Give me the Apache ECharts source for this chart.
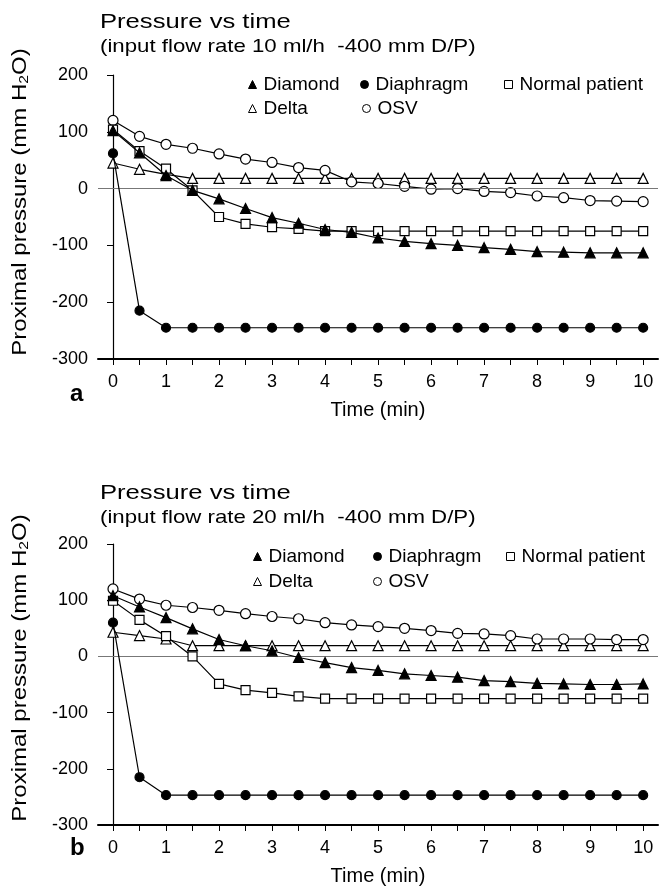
<!DOCTYPE html>
<html><head><meta charset="utf-8">
<script src="https://cdn.jsdelivr.net/npm/echarts@6/dist/echarts.min.js"></script>
<style>html,body{margin:0;padding:0;background:#fff}#c{width:665px;height:887px}</style>
</head><body><div id="c"></div>
<script>
const times = [0,0.5,1,1.5,2,2.5,3,3.5,4,4.5,5,5.5,6,6.5,7,7.5,8,8.5,9,9.5,10];
const xTickLabels = [0,1,2,3,4,5,6,7,8,9,10];
const xMinorTicks = [0,0.5,1,1.5,2,2.5,3,3.5,4,4.5,5,5.5,6,6.5,7,7.5,8,8.5,9,9.5,10];
const seriesNames = ['Diamond','Diaphragm','Normal patient','Delta','OSV'];

// Panel a: 10 ml/h
const diamondA   = [102,63,23,-3,-18,-35,-51,-61,-72,-77,-87,-93,-97,-100,-104,-107,-111,-112,-113,-113,-113];
const diaphragmA = [62,-215,-245,-245,-245,-245,-245,-245,-245,-245,-245,-245,-245,-245,-245,-245,-245,-245,-245,-245,-245];
const normalA    = [104,66,35,-3,-50,-62,-68,-71,-75,-75,-75,-75,-75,-75,-75,-75,-75,-75,-75,-75,-75];
const deltaA     = [45,34,25,18,18,18,18,18,18,18,18,18,18,18,18,18,18,18,18,18,18];
const osvA       = [120,92,78,71,61,52,46,37,32,12,9,4,-1,0,-5,-7,-13,-16,-21,-22,-23];

// Panel b: 20 ml/h
const diamondB   = [108,88,69,49,30,19,10,-2,-11,-20,-25,-31,-34,-37,-43,-45,-48,-49,-50,-50,-49];
const diaphragmB = [60,-215,-247,-247,-247,-247,-247,-247,-247,-247,-247,-247,-247,-247,-247,-247,-247,-247,-247,-247,-247];
const normalB    = [99,65,36,0,-49,-60,-65,-71,-75,-75,-75,-75,-75,-75,-75,-75,-75,-75,-75,-75,-75];
const deltaB     = [43,37,31,19,19,19,19,19,19,19,19,19,19,19,19,19,19,19,19,19,19];
const osvB       = [120,102,91,87,82,76,71,67,60,56,53,50,46,41,40,37,31,31,31,30,30];

const FONT = '"Liberation Sans", Arial, Helvetica, sans-serif';
const styles = {
  'Diamond':        {symbol:'triangle', size:10, fill:'#000'},
  'Diaphragm':      {symbol:'circle',   size:9,  fill:'#000'},
  'Normal patient': {symbol:'rect',     size:9,  fill:'#fff'},
  'Delta':          {symbol:'triangle', size:10, fill:'#fff'},
  'OSV':            {symbol:'circle',   size:10, fill:'#fff'}
};

function pair(vals){ return times.map((t,i)=>[t, vals[i]]); }

function makeSeries(name, vals, gi, z){
  const s = styles[name];
  return {
    type:'line', name, xAxisIndex:gi, yAxisIndex:gi, data:pair(vals),
    symbol:s.symbol, symbolSize:s.size, showAllSymbol:true, z:z,
    lineStyle:{color:'#000', width:1.2},
    itemStyle:{color:s.fill, borderColor:'#000', borderWidth:1.2},
    emphasis:{disabled:true}, animation:false
  };
}

const grids = [
  {left:98, right:7, top:75, height:284},
  {left:98, right:7, top:544, height:282}
];

function xAxis(gi){
  return {
    type:'value', gridIndex:gi, min:-0.283, max:10.28,
    name:'Time (min)', nameLocation:'middle', nameGap:41,
    nameTextStyle:{fontFamily:FONT, fontSize:20, color:'#000'},
    axisLine:{show:true, onZero:false, lineStyle:{color:'#000', width:2}},
    axisTick:{show:true, length:6, inside:false, customValues:xMinorTicks, lineStyle:{color:'#000', width:1}},
    axisLabel:{customValues:xTickLabels, fontFamily:FONT, fontSize:18, color:'#000', margin:14},
    splitLine:{show:false}
  };
}
function yAxis(gi){
  return {
    type:'value', gridIndex:gi, min:-300, max:200, interval:100,
    axisLine:{show:true, lineStyle:{color:'#000', width:1.2}},
    axisTick:{show:true, length:6, lineStyle:{color:'#000', width:1}},
    axisLabel:{fontFamily:FONT, fontSize:18, color:'#000', margin:10},
    splitLine:{show:false}
  };
}

const zeroLine = {
  silent:true, symbol:['none','none'], label:{show:false},
  lineStyle:{color:'#777', width:1, type:'solid'},
  data:[{yAxis:0}], animation:false
};

const series = [];
[[diamondA,diaphragmA,normalA,deltaA,osvA],[diamondB,diaphragmB,normalB,deltaB,osvB]].forEach((set,gi)=>{
  const order = ['Delta','OSV','Normal patient','Diamond','Diaphragm'];
  const map = {'Diamond':set[0],'Diaphragm':set[1],'Normal patient':set[2],'Delta':set[3],'OSV':set[4]};
  order.forEach((n,k)=>{
    const s = makeSeries(n, map[n], gi, 3+k);
    if(k===0) s.markLine = zeroLine;
    series.push(s);
  });
});

function legendItem(name, left, top){
  const s = styles[name];
  return {
    left, top, orient:'horizontal', selectedMode:false, itemWidth:8, itemHeight:8, itemGap:0,
    textStyle:{fontFamily:FONT, fontSize:19, color:'#000', padding:[0,0,0,2]},
    data:[{name, icon:s.symbol, itemStyle:{color:s.fill, borderColor:'#000', borderWidth:1}}]
  };
}

const legends = [
  legendItem('Diamond', 243, 70), legendItem('Diaphragm', 355, 70), legendItem('Normal patient', 499, 70),
  legendItem('Delta', 243, 94), legendItem('OSV', 357, 94),
  legendItem('Diamond', 248, 542), legendItem('Diaphragm', 368, 542), legendItem('Normal patient', 501, 542),
  legendItem('Delta', 248, 567), legendItem('OSV', 368, 567)
];

function titleTexts(cy, rate){
  return [
    {type:'text', x:100, y:cy, scaleX:1.22, style:{text:'Pressure vs time', font:'21px '+FONT, fill:'#000', verticalAlign:'middle'}},
    {type:'text', x:100, y:cy+25, scaleX:1.17, style:{text:'(input flow rate '+rate+' ml/h  -400 mm D/P)', font:'19px '+FONT, fill:'#000', verticalAlign:'middle'}}
  ];
}
function yName(cy){
  return {type:'text', x:20, y:cy, rotation:Math.PI/2, scaleX:1.2,
    style:{text:'Proximal pressure (mm H{s|2}O)', font:'20px '+FONT, fill:'#000', align:'center', verticalAlign:'middle',
      rich:{s:{fontSize:13, fontFamily:FONT, fill:'#000', padding:[9,0,0,0]}}}};
}

const graphic = [
  ...titleTexts(22,'10'), ...titleTexts(493,'20'),
  yName(202), yName(668),
  {type:'text', left:70, top:382, style:{text:'a', font:'bold 24px '+FONT, fill:'#000'}},
  {type:'text', left:70, top:836, style:{text:'b', font:'bold 24px '+FONT, fill:'#000'}}
];

const chart = echarts.init(document.getElementById('c'), null, {renderer:'canvas'});
chart.setOption({
  animation:false, backgroundColor:'#fff',
  grid:grids, xAxis:[xAxis(0),xAxis(1)], yAxis:[yAxis(0),yAxis(1)],
  legend:legends, series, graphic
});
</script></body></html>
